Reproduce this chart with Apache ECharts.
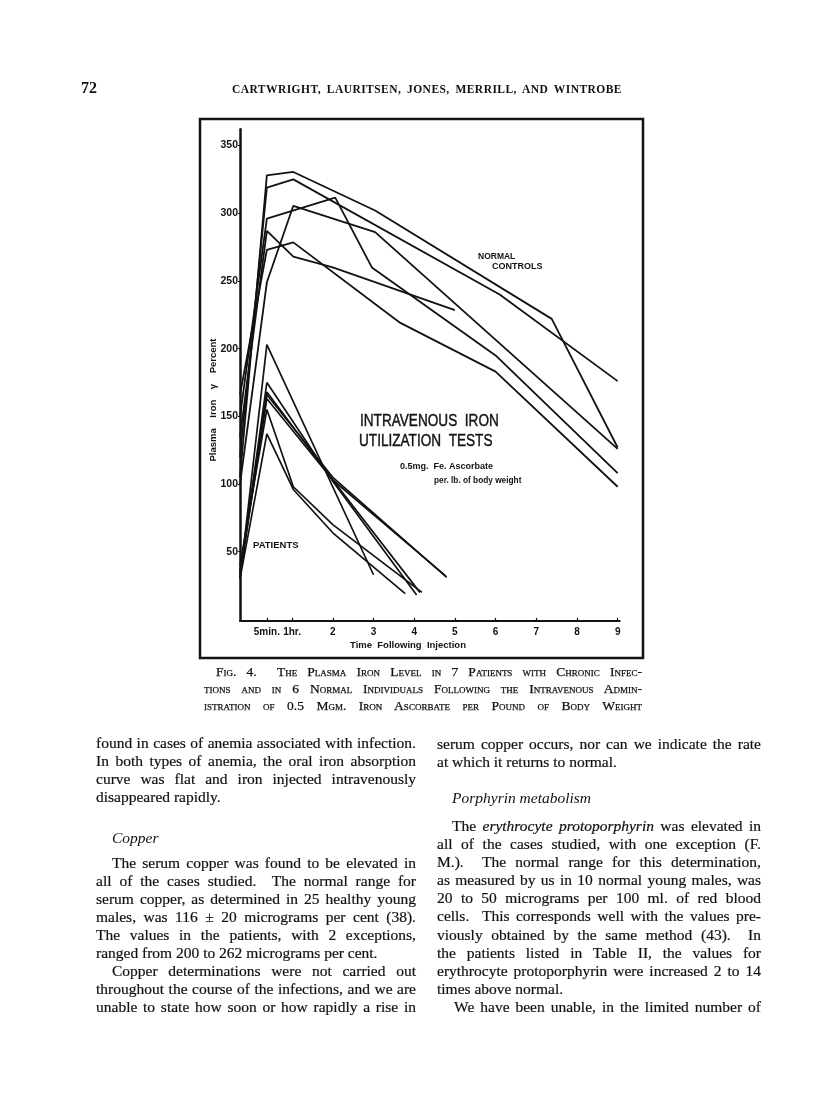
<!DOCTYPE html>
<html><head><meta charset="utf-8">
<script src="https://cdn.jsdelivr.net/npm/echarts@6/dist/echarts.min.js"></script>
<style>
html,body{margin:0;padding:0;background:#fff;}
#page{position:relative;width:816px;height:1105px;overflow:hidden;background:#fff;}
#chart{position:absolute;left:0;top:0;width:816px;height:1105px;}
.t{position:absolute;font-family:"Liberation Serif","DejaVu Serif",serif;color:#111;white-space:nowrap;}
.ln{position:absolute;font-family:"Liberation Serif","DejaVu Serif",serif;font-size:15.5px;line-height:18px;height:18px;color:#111;text-align:justify;text-align-last:justify;white-space:normal;overflow:visible;-webkit-text-stroke:0.2px #111;}
.last{text-align-last:left;}
.cap{position:absolute;font-family:"Liberation Serif",serif;font-size:13.5px;line-height:17px;height:17px;font-variant:small-caps;color:#111;text-align:justify;text-align-last:justify;-webkit-text-stroke:0.25px #111;}
.hdr{position:absolute;font-family:"Liberation Serif",serif;font-size:11.5px;letter-spacing:0.45px;line-height:16px;height:16px;font-weight:bold;color:#111;text-align:justify;text-align-last:justify;}
</style></head>
<body><div id="page"><div id="chart"></div></div>
<script>
// ---- chart data (time in hours on the drawn time scale, plasma iron in γ per cent) ----
const timeTicks = [0.38, 1, 2, 3, 4, 5, 6, 7, 8, 9];
const timeTickLabels = ['5min.', '1hr.', '2', '3', '4', '5', '6', '7', '8', '9'];
const ironTicks = [50, 100, 150, 200, 250, 300, 350];

const control1 = [[-0.28,105],[0.38,328],[1.03,330.5],[3.04,302],[7.38,222],[9,127]];
const control2 = [[-0.28,120],[0.38,319],[1.03,325],[6.1,240],[9,176]];
const control3 = [[-0.28,150],[0.38,296],[2.06,311.5],[2.96,260],[6,195],[9,108]];
const control4 = [[-0.28,100],[0.38,249],[1.03,305.5],[3.04,286],[9,126]];
const control5 = [[-0.28,135],[0.38,287],[1.03,268],[2,260],[5,228.5]];
const control6 = [[-0.28,166],[0.38,273],[1.03,278.5],[3.66,219],[6,183],[9,98]];

const patient1 = [[-0.28,30],[0.38,203],[3.0,33]];
const patient2 = [[-0.28,33],[0.38,175],[2,102],[4.06,18]];
const patient3 = [[-0.28,36],[0.38,168],[2,103],[4.14,20]];
const patient4 = [[-0.28,31],[0.38,166],[2,105],[4.8,31]];
const patient5 = [[-0.28,34],[0.38,163],[2,103],[4.78,32]];
const patient6 = [[-0.28,40],[0.38,155],[1.03,98],[2,70],[4.19,20]];
const patient7 = [[-0.28,30],[0.38,137],[1.03,96],[2,64],[3.78,19]];

const controls = [control1, control2, control3, control4, control5, control6];
const patients = [patient1, patient2, patient3, patient4, patient5, patient6, patient7];

// ---- page text ----
const leftLines = [
  ['found in cases of anemia associated with infection.', 745, 96, ''],
  ['In both types of anemia, the oral iron absorption', 763, 96, ''],
  ['curve was flat and iron injected intravenously', 781, 96, ''],
  ['disappeared rapidly.', 799, 96, 'last'],
  ['The serum copper was found to be elevated in', 865, 112, ''],
  ['all of the cases studied.&nbsp; The normal range for', 883, 96, ''],
  ['serum copper, as determined in 25 healthy young', 901, 96, ''],
  ['males, was 116 ± 20 micrograms per cent (38).', 919, 96, ''],
  ['The values in the patients, with 2 exceptions,', 937, 96, ''],
  ['ranged from 200 to 262 micrograms per cent.', 955, 96, 'last'],
  ['Copper determinations were not carried out', 973, 112, ''],
  ['throughout the course of the infections, and we are', 991, 96, ''],
  ['unable to state how soon or how rapidly a rise in', 1009, 96, '']
];
const rightLines = [
  ['serum copper occurs, nor can we indicate the rate', 746, 437, ''],
  ['at which it returns to normal.', 764, 437, 'last'],
  ['The <i>erythrocyte protoporphyrin</i> was elevated in', 828, 452, ''],
  ['all of the cases studied, with one exception (F.', 846, 437, ''],
  ['M.).&nbsp; The normal range for this determination,', 864, 437, ''],
  ['as measured by us in 10 normal young males, was', 882, 437, ''],
  ['20 to 50 micrograms per 100 ml. of red blood', 900, 437, ''],
  ['cells.&nbsp; This corresponds well with the values pre-', 918, 437, ''],
  ['viously obtained by the same method (43).&nbsp; In', 937, 437, ''],
  ['the patients listed in Table II, the values for', 955, 437, ''],
  ['erythrocyte protoporphyrin were increased 2 to 14', 973, 437, ''],
  ['times above normal.', 991, 437, 'last'],
  ['We have been unable, in the limited number of', 1009, 454, '']
];
const captionLines = [
  ['Fig. 4.&nbsp; The Plasma Iron Level in 7 Patients with Chronic Infec-', 672, 216],
  ['tions and in 6 Normal Individuals Following the Intravenous Admin-', 689, 204],
  ['istration of 0.5 Mgm. Iron Ascorbate per Pound of Body Weight', 706, 204]
];

const page = document.getElementById('page');
function addLine(txt, cy, x, right, cls, klass, off) {
  const d = document.createElement('div');
  d.className = klass + (cls ? ' ' + cls : '');
  d.style.left = x + 'px';
  d.style.width = (right - x) + 'px';
  d.style.top = (cy - off) + 'px';
  d.innerHTML = txt;
  page.appendChild(d);
}
leftLines.forEach(l => addLine(l[0], l[1], l[2], 416, l[3], 'ln', 10.8));
rightLines.forEach(l => addLine(l[0], l[1], l[2], 761, l[3], 'ln', 10.8));
captionLines.forEach(l => addLine(l[0], l[1], l[2], 642, '', 'cap', 9));

function addText(html, x, y, css) {
  const d = document.createElement('div');
  d.className = 't';
  d.style.left = x + 'px';
  d.style.top = y + 'px';
  d.style.cssText += css;
  d.innerHTML = html;
  page.appendChild(d);
}
addText('72', 81, 79, 'font-size:16px;font-weight:bold;');
addLine('CARTWRIGHT, LAURITSEN, JONES, MERRILL, AND WINTROBE', 89, 232, 622, '', 'hdr', 8);
addText('Copper', 112, 829, 'font-size:15.5px;font-style:italic;');
addText('Porphyrin metabolism', 452, 789, 'font-size:15.5px;font-style:italic;');

// ---- chart ----
const chart = echarts.init(document.getElementById('chart'), null, {renderer: 'canvas'});
const ink = '#121212';
const series = [];
controls.forEach((d, i) => series.push({
  name: 'Normal control ' + (i + 1), type: 'line', data: d, showSymbol: false, silent: true,
  lineStyle: {color: ink, width: 1.8}, animation: false
}));
patients.forEach((d, i) => series.push({
  name: 'Patient ' + (i + 1), type: 'line', data: d, showSymbol: false, silent: true,
  lineStyle: {color: ink, width: 1.7}, animation: false
}));

function tickLabel(v) {
  const i = timeTicks.findIndex(t => Math.abs(t - v) < 1e-6);
  return i >= 0 ? timeTickLabels[i] : '';
}
const sansB = (s) => 'bold ' + s + 'px "Liberation Sans", Arial, sans-serif';

chart.setOption({
  animation: false,
  backgroundColor: 'transparent',
  grid: {left: 240, top: 129.3, width: 379.7, height: 491.5, containLabel: false, outerBoundsMode: 'none'},
  xAxis: {
    type: 'value', min: -0.28, max: 9.05,
    axisLine: {onZero: false, lineStyle: {color: ink, width: 2}},
    splitLine: {show: false},
    axisTick: {customValues: timeTicks, inside: true, length: 3, lineStyle: {color: ink, width: 1.2}},
    axisLabel: {customValues: timeTicks, formatter: tickLabel, color: ink,
      fontFamily: '"Liberation Sans", Arial, sans-serif', fontWeight: 'bold', fontSize: 10, margin: 6}
  },
  yAxis: {
    type: 'value', min: -1, max: 362,
    axisLine: {onZero: false, lineStyle: {color: ink, width: 2.5}},
    splitLine: {show: false},
    axisTick: {customValues: ironTicks, length: 2, lineStyle: {color: ink, width: 1.2}},
    axisLabel: {customValues: ironTicks, color: ink,
      fontFamily: '"Liberation Sans", Arial, sans-serif', fontWeight: 'bold', fontSize: 10.5, margin: 2}
  },
  graphic: [
    {type: 'rect', shape: {x: 200, y: 119, width: 443, height: 539}, style: {fill: 'none', stroke: ink, lineWidth: 2.5}, silent: true},
    {type: 'text', x: 360, y: 422, scaleX: 0.85, style: {text: 'INTRAVENOUS  IRON', font: '16px "Liberation Sans", Arial, sans-serif', fill: ink, stroke: ink, lineWidth: 0.4, textVerticalAlign: 'middle'}},
    {type: 'text', x: 359, y: 441.5, scaleX: 0.85, style: {text: 'UTILIZATION  TESTS', font: '16px "Liberation Sans", Arial, sans-serif', fill: ink, stroke: ink, lineWidth: 0.4, textVerticalAlign: 'middle'}},
    {type: 'text', x: 400, y: 467, style: {text: '0.5mg.  Fe. Ascorbate', font: sansB(9), fill: ink, textVerticalAlign: 'middle'}},
    {type: 'text', x: 434, y: 480.5, scaleX: 0.92, style: {text: 'per. lb. of body weight', font: sansB(9), fill: ink, textVerticalAlign: 'middle'}},
    {type: 'text', x: 253, y: 545.5, style: {text: 'PATIENTS', font: sansB(9.5), fill: ink, textVerticalAlign: 'middle'}},
    {type: 'text', x: 478, y: 256.5, style: {text: 'NORMAL', font: sansB(8.5), fill: ink, textVerticalAlign: 'middle'}},
    {type: 'text', x: 492, y: 266.5, style: {text: 'CONTROLS', font: sansB(9), fill: ink, textVerticalAlign: 'middle'}},
    {type: 'text', x: 408, y: 645, style: {text: 'Time  Following  Injection', font: sansB(9.5), fill: ink, textAlign: 'center', textVerticalAlign: 'middle'}},
    {type: 'text', x: 213, y: 400, rotation: Math.PI / 2, style: {text: 'Plasma    Iron    γ    Percent', font: sansB(9.5), fill: ink, textAlign: 'center', textVerticalAlign: 'middle'}}
  ],
  series: series
});
</script>
</body></html>
